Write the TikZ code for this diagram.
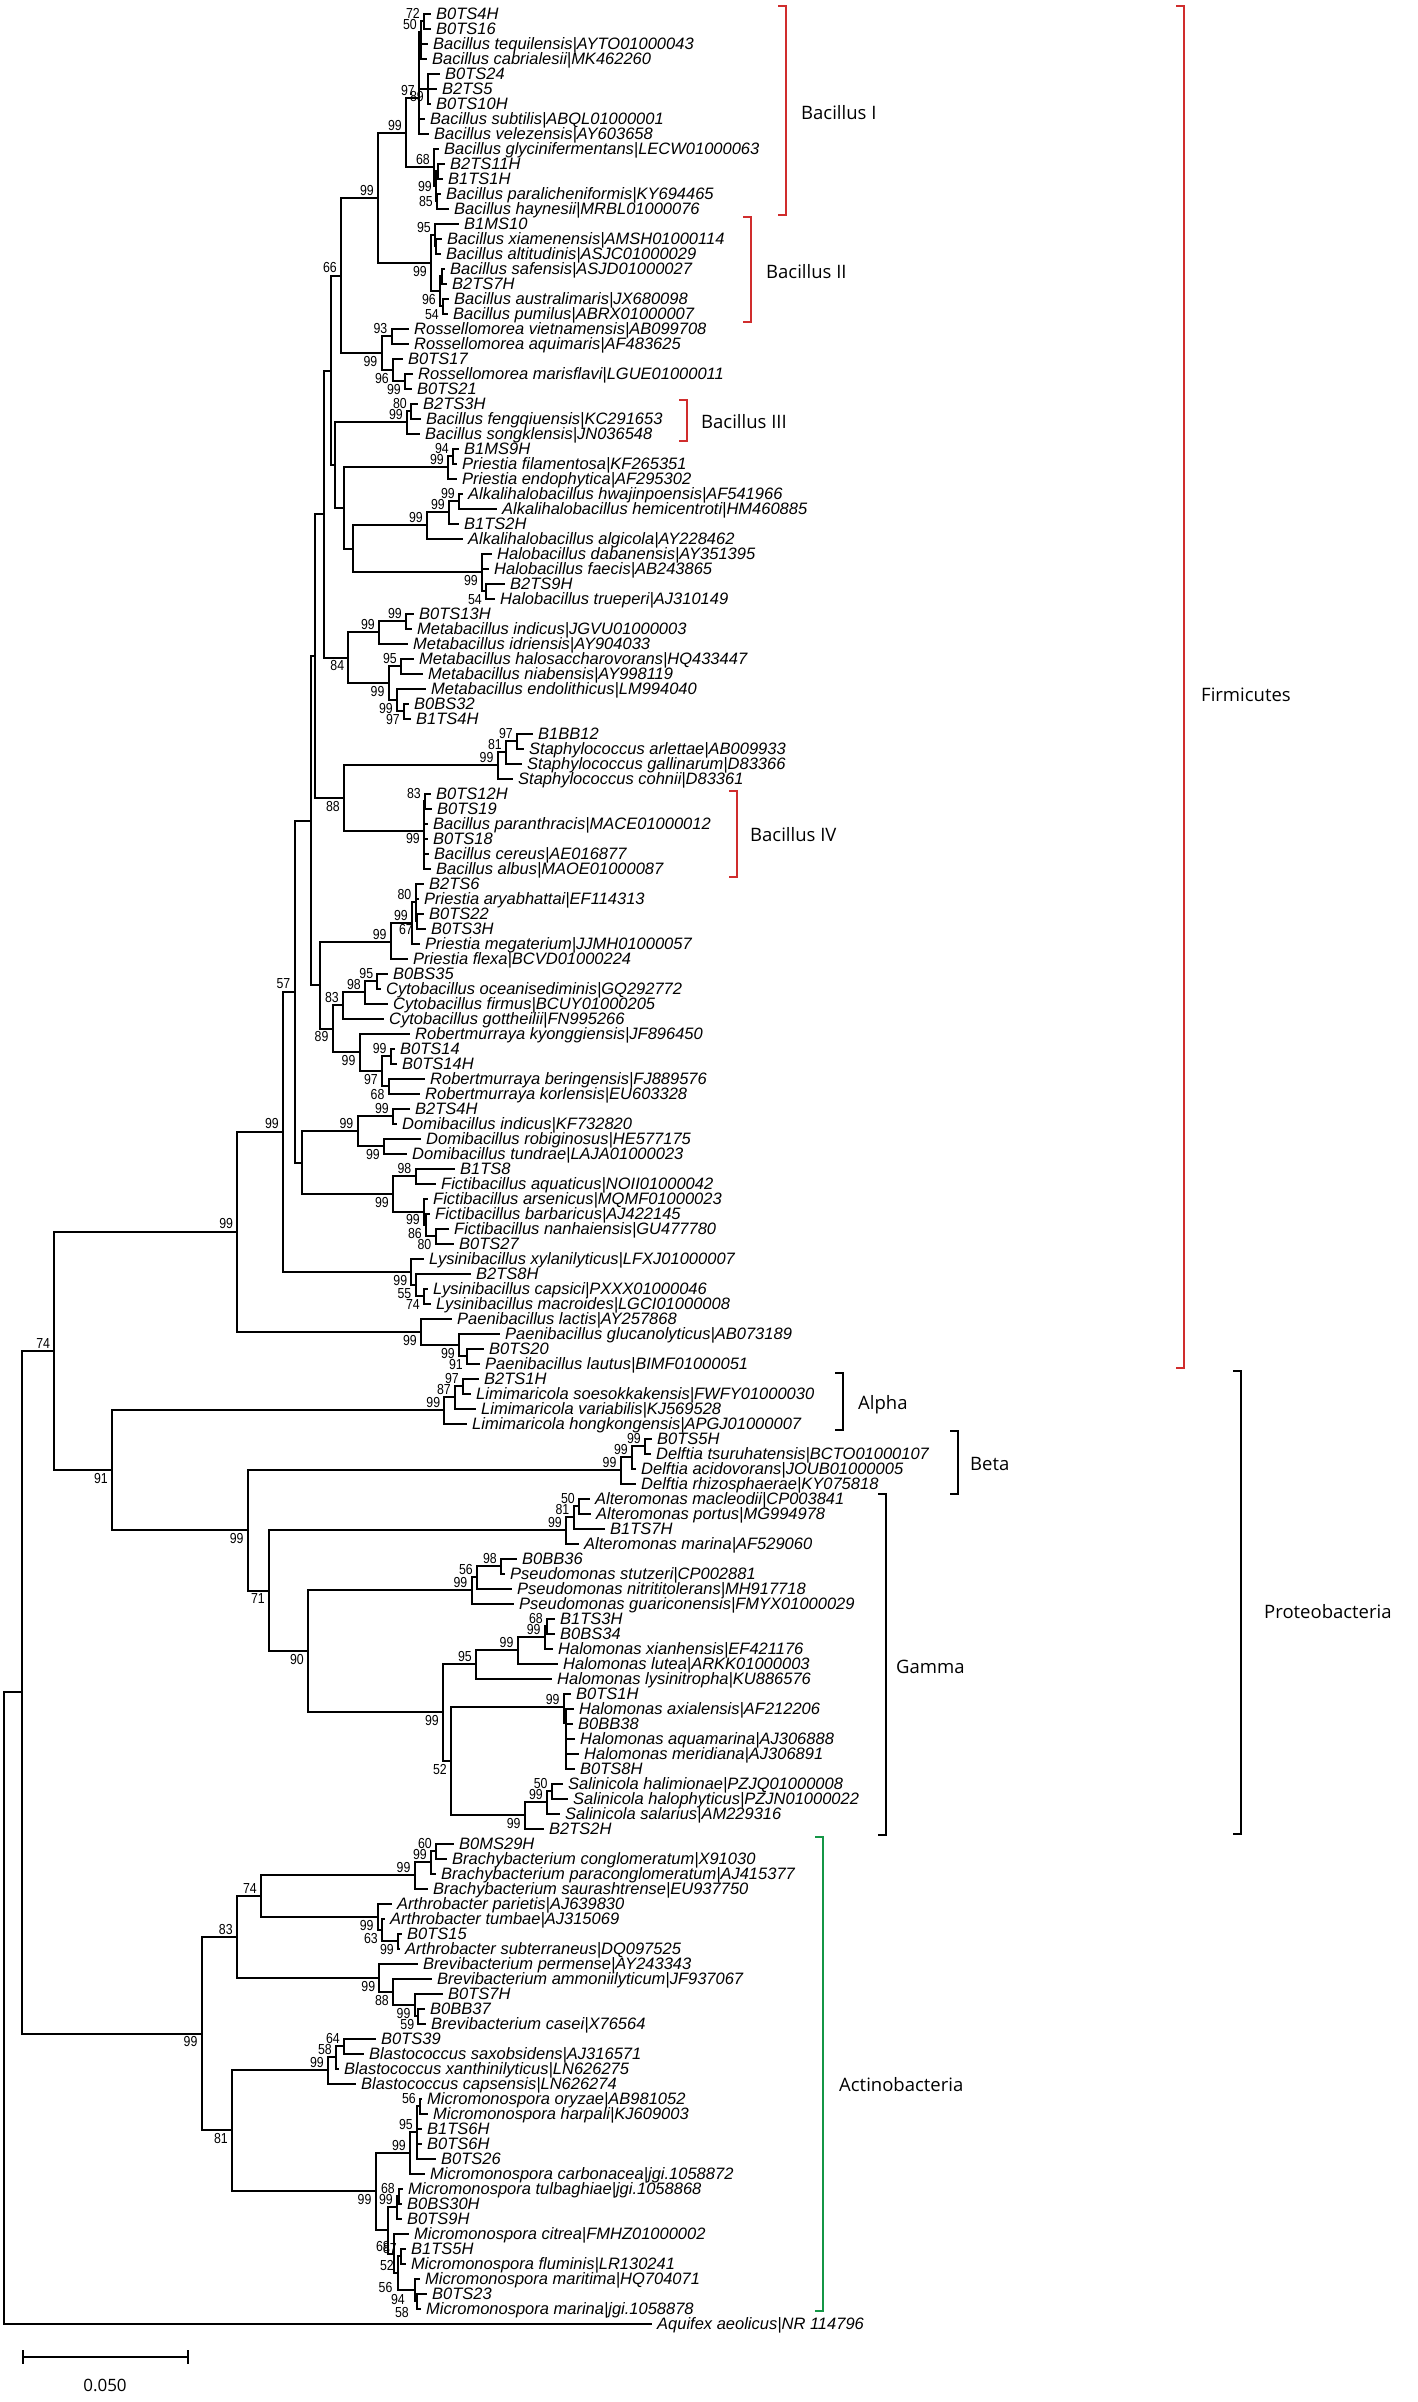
\documentclass[tikz,border=0pt]{standalone}
\usepackage{fontspec}
\setmainfont{Liberation Sans}
\newfontfamily\cladefont{Open Sans}
\newfontfamily\bsfont{Liberation Sans}[FakeStretch=0.85]
\definecolor{vermelho}{RGB}{208,45,45}
\definecolor{verde}{RGB}{20,150,70}

\begin{document}
\begin{tikzpicture}[x=1pt, y=-1pt,
  ramo/.style={line width=2pt},
  folha/.style={anchor=west, inner xsep=5pt, inner ysep=0pt, text height=12pt, text depth=0pt, font=\itshape\fontsize{16.5}{18}\selectfont},
  boot/.style={inner sep=0pt, text height=10.4pt, text depth=0pt, font=\bsfont\fontsize{14.5}{15}\selectfont},
  acima/.style={anchor=south east, xshift=-4pt, yshift=2.5pt},
  abaixo/.style={anchor=north east, xshift=-4pt, yshift=-2.5pt},
  lado/.style={anchor=east, xshift=-4pt},
  chave/.style={line width=1.3pt},
  grupo/.style={anchor=west, inner sep=0pt, font=\cladefont\fontsize{18.5}{20}\selectfont}]

\useasboundingbox (0,0) rectangle (1417,2402);

% Folhas (ponta do ramo e nome)
\foreach \i/\x/\nome in {1/431/B0TS4H, 2/431/B0TS16, 3/428/Bacillus tequilensis|AYTO01000043, 4/427/Bacillus cabrialesii|MK462260,
  5/440/B0TS24, 6/437/B2TS5, 7/431/B0TS10H, 8/425/Bacillus subtilis|ABQL01000001, 9/429/Bacillus velezensis|AY603658,
  10/439/Bacillus glycinifermentans|LECW01000063, 11/445/B2TS11H, 12/443/B1TS1H, 13/441/Bacillus paralicheniformis|KY694465,
  14/449/Bacillus haynesii|MRBL01000076, 15/459/B1MS10, 16/442/Bacillus xiamenensis|AMSH01000114, 17/441/Bacillus altitudinis|ASJC01000029,
  18/445/Bacillus safensis|ASJD01000027, 19/447/B2TS7H, 20/449/Bacillus australimaris|JX680098, 21/448/Bacillus pumilus|ABRX01000007,
  22/409/Rossellomorea vietnamensis|AB099708, 23/409/Rossellomorea aquimaris|AF483625, 24/403/B0TS17,
  25/413/Rossellomorea marisflavi|LGUE01000011, 26/412/B0TS21, 27/418/B2TS3H, 28/421/Bacillus fengqiuensis|KC291653,
  29/420/Bacillus songklensis|JN036548, 30/459/B1MS9H, 31/457/Priestia filamentosa|KF265351, 32/457/Priestia endophytica|AF295302,
  33/463/Alkalihalobacillus hwajinpoensis|AF541966, 34/497/Alkalihalobacillus hemicentroti|HM460885, 35/459/B1TS2H,
  36/463/Alkalihalobacillus algicola|AY228462, 37/492/Halobacillus dabanensis|AY351395, 38/489/Halobacillus faecis|AB243865,
  39/505/B2TS9H, 40/495/Halobacillus trueperi|AJ310149, 41/414/B0TS13H, 42/412/Metabacillus indicus|JGVU01000003,
  43/408/Metabacillus idriensis|AY904033, 44/414/Metabacillus halosaccharovorans|HQ433447, 45/423/Metabacillus niabensis|AY998119,
  46/426/Metabacillus endolithicus|LM994040, 47/409/B0BS32, 48/411/B1TS4H, 49/533/B1BB12, 50/524/Staphylococcus arlettae|AB009933,
  51/522/Staphylococcus gallinarum|D83366, 52/513/Staphylococcus cohnii|D83361, 53/431/B0TS12H, 54/432/B0TS19,
  55/428/Bacillus paranthracis|MACE01000012, 56/428/B0TS18, 57/429/Bacillus cereus|AE016877, 58/431/Bacillus albus|MAOE01000087,
  59/424/B2TS6, 60/419/Priestia aryabhattai|EF114313, 61/424/B0TS22, 62/426/B0TS3H, 63/420/Priestia megaterium|JJMH01000057,
  64/408/Priestia flexa|BCVD01000224, 65/388/B0BS35, 66/381/Cytobacillus oceanisediminis|GQ292772, 67/388/Cytobacillus firmus|BCUY01000205,
  68/384/Cytobacillus gottheilii|FN995266, 69/410/Robertmurraya kyonggiensis|JF896450, 70/395/B0TS14, 71/397/B0TS14H,
  72/425/Robertmurraya beringensis|FJ889576, 73/420/Robertmurraya korlensis|EU603328, 74/410/B2TS4H, 75/397/Domibacillus indicus|KF732820,
  76/421/Domibacillus robiginosus|HE577175, 77/407/Domibacillus tundrae|LAJA01000023, 78/455/B1TS8, 79/436/Fictibacillus aquaticus|NOII01000042,
  80/428/Fictibacillus arsenicus|MQMF01000023, 81/430/Fictibacillus barbaricus|AJ422145, 82/449/Fictibacillus nanhaiensis|GU477780,
  83/454/B0TS27, 84/424/Lysinibacillus xylanilyticus|LFXJ01000007, 85/471/B2TS8H, 86/428/Lysinibacillus capsici|PXXX01000046,
  87/431/Lysinibacillus macroides|LGCI01000008, 88/452/Paenibacillus lactis|AY257868, 89/500/Paenibacillus glucanolyticus|AB073189,
  90/484/B0TS20, 91/480/Paenibacillus lautus|BIMF01000051,
  92/479/B2TS1H, 93/471/Limimaricola soesokkakensis|FWFY01000030, 94/476/Limimaricola variabilis|KJ569528,
  95/467/Limimaricola hongkongensis|APGJ01000007, 96/652/B0TS5H, 97/651/Delftia tsuruhatensis|BCTO01000107,
  98/636/Delftia acidovorans|JOUB01000005, 99/636/Delftia rhizosphaerae|KY075818, 100/590/Alteromonas macleodii|CP003841,
  101/591/Alteromonas portus|MG994978, 102/605/B1TS7H, 103/579/Alteromonas marina|AF529060, 104/517/B0BB36,
  105/505/Pseudomonas stutzeri|CP002881, 106/512/Pseudomonas nitrititolerans|MH917718, 107/514/Pseudomonas guariconensis|FMYX01000029,
  108/555/B1TS3H, 109/555/B0BS34, 110/553/Halomonas xianhensis|EF421176, 111/558/Halomonas lutea|ARKK01000003,
  112/552/Halomonas lysinitropha|KU886576, 113/571/B0TS1H, 114/574/Halomonas axialensis|AF212206, 115/573/B0BB38,
  116/575/Halomonas aquamarina|AJ306888, 117/579/Halomonas meridiana|AJ306891, 118/575/B0TS8H,
  119/563/Salinicola halimionae|PZJQ01000008, 120/568/Salinicola halophyticus|PZJN01000022, 121/560/Salinicola salarius|AM229316,
  122/544/B2TS2H,
  123/454/B0MS29H, 124/447/Brachybacterium conglomeratum|X91030, 125/436/Brachybacterium paraconglomeratum|AJ415377,
  126/428/Brachybacterium saurashtrense|EU937750, 127/392/Arthrobacter parietis|AJ639830, 128/385/Arthrobacter tumbae|AJ315069,
  129/402/B0TS15, 130/400/Arthrobacter subterraneus|DQ097525, 131/418/Brevibacterium permense|AY243343,
  132/432/Brevibacterium ammoniilyticum|JF937067, 133/443/B0TS7H, 134/425/B0BB37, 135/426/Brevibacterium casei|X76564,
  136/376/B0TS39, 137/364/Blastococcus saxobsidens|AJ316571, 138/339/Blastococcus xanthinilyticus|LN626275,
  139/356/Blastococcus capsensis|LN626274, 140/422/Micromonospora oryzae|AB981052, 141/428/Micromonospora harpali|KJ609003,
  142/422/B1TS6H, 143/422/B0TS6H, 144/436/B0TS26, 145/425/Micromonospora carbonacea|jgi.1058872,
  146/403/Micromonospora tulbaghiae|jgi.1058868, 147/402/B0BS30H, 148/402/B0TS9H, 149/409/Micromonospora citrea|FMHZ01000002,
  150/406/B1TS5H, 151/406/Micromonospora fluminis|LR130241, 152/420/Micromonospora maritima|HQ704071, 153/427/B0TS23,
  154/421/Micromonospora marina|jgi.1058878, 155/652/Aquifex aeolicus|NR 114796} {
  \coordinate (t\i) at (\x, {13.5+15*(\i-1)});
  \node[folha] (f\i) at (t\i) {\nome};
}

% Nos internos
\foreach \n/\x/\y in {n72/424/21, n50/421/32, n89/428/88.5, nS/419/98, nB2/438/171, n85/437/201, nL2/436/186, nL/434/167,
  nBI/406/133, n95b/436/246, n95/435/235, nBIIa/442/276, n54/443/306, n96/440/291, nBII/431/263, nBac/378/198,
  n93/391.5/336, n99c/405/381, n96R/393/370, nRos/381.5/353, n66/341/275.5, nB3a/411/411, nB3/407/422,
  nPri1a/453/456, nPri1/448/467, nAlk2/459/501, nAlk1/449/512, nAlk/427/525, nHal3/486/591, nHal/482/572,
  nAH/352.5/548.5, nPAH/344/508, nB3P/334.7/465, nM/330.6/370.5, nMet1a/406/621, nMet1/379/632, nMet95/401/666,
  nMet4/404/711, nMet3/397/700, nMet2/388.6/683, nMet/348.4/657.5, nN/324.4/514, nSt3/517/741, nSt2/506/752,
  nSt/497.6/765, nBIVa/425/801, nBIV/424/830.5, nSB/344/798, nO/315/656, nPm3/417/921, nPm2/415.5/902,
  nPm1/412/923, nPm/390.7/942, nCy1/377.4/981, nCy2/365/992, nCy/343/1005, nRob3/390.7/1056, nRob4/388.6/1086,
  nRob2/382/1071, nRob/359.6/1052, nCR/332.6/1028.6, nI/320/985, nG/310.5/820.5, nDom1/393/1116, nDom2/384/1146,
  nDom/357.5/1131, nFic1/415.5/1176, nFic4/435.5/1236, nFic3/426/1225, nFic2/424/1211.6, nFic/393/1194,
  nDF/301.6/1162.5, nF3/294.5/991.5, nLysB/424/1296, nLysA/415.5/1285, nLys/411.4/1272, nF2/283/1131.5,
  nPae3/467/1356, nPae2/459/1345, nPae/421/1332, nFirm/237.3/1231.6,
  nAl3/463/1386, nAl2/455/1397, nAl/444.4/1410, nBe3/645/1446, nBe2/632/1457, nBe/620.6/1470,
  nAlt3/579/1506, nAlt2/573.5/1517, nAlt/566/1530, nPse3/501/1566, nPse2/477/1577, nPse/471.5/1590,
  nHm4/547/1626, nHm3/544.7/1637, nHm2/517.6/1650, nHm1/476/1664, nHax2/566/1723, nHax/563.7/1707,
  nSal3/551.8/1791, nSal2/547/1802, nSal/524.7/1815, nX/451/1761, nHS/443/1712, nPG/308/1651,
  nG2/269/1590.5, nBG/247.7/1530, nProt/112/1470,
  nBr3/436/1851, nBr2/431/1862, nBr/414.6/1875, nAr3/398/1941, nAr2/382/1930, nAr/377.8/1917, nBA/261/1896,
  nBv4/418.4/2016, nBv3/414.6/2005, nBv2/393/1992, nBv/379.4/1978, nBAB/236.9/1937, nBl3/344/2046,
  nBl2/336/2057, nBl/328/2070, nMi3/420/2106, nMi2/417/2132, nMi1/410/2153, nMi5a/399/2196, nMi5/397/2207,
  nMi8/401/2256, nMi10/417/2301, nMi9/414.6/2290, nMi7/398/2273, nMi6/394/2254, nMi4/387.5/2230,
  nMi/375.6/2191, nBM/232/2130, nAct/201.6/2033.5,
  n74/54.2/1351, nA/21.7/1692, raiz/4.3/2008}
  \coordinate (\n) at (\x,\y);

% Ramos (pai -> filhos)
\foreach \p/\fs in {n72/{t1,t2}, n50/{n72,t3,t4}, n89/{t5,t6,t7}, nS/{n50,n89,t8,t9}, nB2/{t11,t12}, n85/{t13,t14},
  nL2/{nB2,n85}, nL/{t10,nL2}, nBI/{nS,nL}, n95b/{t16,t17}, n95/{t15,n95b}, nBIIa/{t18,t19}, n54/{t20,t21},
  n96/{nBIIa,n54}, nBII/{n95,n96}, nBac/{nBI,nBII}, n93/{t22,t23}, n99c/{t25,t26}, n96R/{t24,n99c}, nRos/{n93,n96R},
  n66/{nBac,nRos}, nB3a/{t27,t28}, nB3/{nB3a,t29}, nPri1a/{t30,t31}, nPri1/{nPri1a,t32}, nAlk2/{t33,t34},
  nAlk1/{nAlk2,t35}, nAlk/{nAlk1,t36}, nHal3/{t39,t40}, nHal/{t37,t38,nHal3}, nAH/{nAlk,nHal}, nPAH/{nPri1,nAH},
  nB3P/{nB3,nPAH}, nM/{n66,nB3P}, nMet1a/{t41,t42}, nMet1/{nMet1a,t43}, nMet95/{t44,t45}, nMet4/{t47,t48},
  nMet3/{t46,nMet4}, nMet2/{nMet95,nMet3}, nMet/{nMet1,nMet2}, nN/{nM,nMet}, nSt3/{t49,t50}, nSt2/{nSt3,t51},
  nSt/{nSt2,t52}, nBIVa/{t53,t54}, nBIV/{nBIVa,t55,t56,t57,t58}, nSB/{nSt,nBIV}, nO/{nN,nSB}, nPm3/{t61,t62},
  nPm2/{t59,t60,nPm3}, nPm1/{nPm2,t63}, nPm/{nPm1,t64}, nCy1/{t65,t66}, nCy2/{nCy1,t67}, nCy/{nCy2,t68},
  nRob3/{t70,t71}, nRob4/{t72,t73}, nRob2/{nRob3,nRob4}, nRob/{t69,nRob2}, nCR/{nCy,nRob}, nI/{nPm,nCR},
  nG/{nO,nI}, nDom1/{t74,t75}, nDom2/{t76,t77}, nDom/{nDom1,nDom2}, nFic1/{t78,t79}, nFic4/{t82,t83},
  nFic3/{t81,nFic4}, nFic2/{t80,nFic3}, nFic/{nFic1,nFic2}, nDF/{nDom,nFic}, nF3/{nG,nDF}, nLysB/{t86,t87},
  nLysA/{t85,nLysB}, nLys/{t84,nLysA}, nF2/{nF3,nLys}, nPae3/{t90,t91}, nPae2/{t89,nPae3}, nPae/{t88,nPae2},
  nFirm/{nF2,nPae},
  nAl3/{t92,t93}, nAl2/{nAl3,t94}, nAl/{nAl2,t95}, nBe3/{t96,t97}, nBe2/{nBe3,t98}, nBe/{nBe2,t99},
  nAlt3/{t100,t101}, nAlt2/{nAlt3,t102}, nAlt/{nAlt2,t103}, nPse3/{t104,t105}, nPse2/{nPse3,t106},
  nPse/{nPse2,t107}, nHm4/{t108,t109}, nHm3/{nHm4,t110}, nHm2/{nHm3,t111}, nHm1/{nHm2,t112},
  nHax2/{t114,t115,t116,t117,t118}, nHax/{t113,nHax2}, nSal3/{t119,t120}, nSal2/{nSal3,t121}, nSal/{nSal2,t122},
  nX/{nHax,nSal}, nHS/{nHm1,nX}, nPG/{nPse,nHS}, nG2/{nAlt,nPG}, nBG/{nBe,nG2}, nProt/{nAl,nBG},
  nBr3/{t123,t124}, nBr2/{nBr3,t125}, nBr/{nBr2,t126}, nAr3/{t129,t130}, nAr2/{t128,nAr3}, nAr/{t127,nAr2},
  nBA/{nBr,nAr}, nBv4/{t134,t135}, nBv3/{t133,nBv4}, nBv2/{t132,nBv3}, nBv/{t131,nBv2}, nBAB/{nBA,nBv},
  nBl3/{t136,t137}, nBl2/{nBl3,t138}, nBl/{nBl2,t139}, nMi3/{t140,t141}, nMi2/{nMi3,t142,t143,t144},
  nMi1/{nMi2,t145}, nMi5a/{t146,t147}, nMi5/{nMi5a,t148}, nMi8/{t150,t151}, nMi10/{t153,t154},
  nMi9/{t152,nMi10}, nMi7/{nMi8,nMi9}, nMi6/{t149,nMi7}, nMi4/{nMi5,nMi6}, nMi/{nMi1,nMi4}, nBM/{nBl,nMi},
  nAct/{nBAB,nBM},
  n74/{nFirm,nProt}, nA/{n74,nAct}, raiz/{nA,t155}}
  \foreach \f in \fs \draw[ramo] (\p) |- (\f);

% Valores de bootstrap
\foreach \n/\v in {n72/72, n50/50, nS/97, nBI/99, nBac/99, n66/66, nL/68, n95/95, n93/93, nB3a/80, nB3/99,
  nPri1a/94, nPri1/99, nAlk2/99, nAlk1/99, nAlk/99, nMet1a/99, nMet1/99, nMet95/95, nSt3/97, nSt2/81, nSt/99,
  nBIVa/83, nPm/99, nPm1/99, nPm2/80, nCy1/95, nCy2/98, nCy/83, nF3/57, nRob3/99, nDom1/99, nDom/99, nFic1/98,
  nF2/99, nFirm/99, n74/74, nAl3/97, nAl2/87, nAl/99, nBe3/99, nBe2/99, nBe/99, nAlt3/50, nAlt2/81, nAlt/99,
  nPse3/98, nPse2/56, nPse/99, nHm4/68, nHm3/99, nHm2/99, nHm1/95, nHax/99, nSal3/50, nSal2/99, nBr3/60,
  nBr2/99, nBr/99, nBA/74, nBAB/83, nBl3/64, nBl2/58, nBl/99, nMi3/56, nMi2/95, nMi1/99, nMi5a/68, nMi5/99,
  nMi6/68, nMi8/87, nMi7/52}
  \node[boot, acima] at (\n) {\v};
\foreach \n/\v in {n89/89, nBII/99, n96/96, n54/54, nRos/99, n96R/96, n99c/99, nHal/99, nHal3/54, nMet2/99,
  nMet3/99, nMet4/97, nMet/84, nBIV/99, nSB/88, nPm3/67, nCR/89, nRob/99, nRob2/97, nRob4/68, nDom2/99, nFic/99,
  nFic2/99, nFic3/86, nFic4/80, nLys/99, nLysA/55, nLysB/74, nPae/99, nPae2/99, nPae3/91, nProt/91, nBG/99,
  nG2/71, nPG/90, nHS/99, nX/52, nSal/99, nAr/99, nAr2/63, nAr3/99, nBv/99, nBv2/88, nBv3/99, nBv4/59,
  nAct/99, nBM/81, nMi/99}
  \node[boot, abaixo] at (\n) {\v};
\foreach \n/\v in {nL2/99, n85/85}
  \node[boot, lado] at (\n) {\v};
\node[boot, lado, xshift=-18pt, yshift=3pt] at (nMi9) {56};
\node[boot, lado, xshift=-8pt, yshift=2pt] at (nMi10) {94};
\node[boot, abaixo, xshift=-4pt, yshift=-3.5pt] at (nMi10) {58};

% Chaves dos grupos
\draw[chave, vermelho] (778,6) -- (786,6) -- (786,215) -- (778,215);
\draw[chave, vermelho] (743,217) -- (751,217) -- (751,322) -- (743,322);
\draw[chave, vermelho] (679,400) -- (687,400) -- (687,441) -- (679,441);
\draw[chave, vermelho] (729,791) -- (737,791) -- (737,877) -- (729,877);
\draw[chave, vermelho] (1176,6) -- (1184,6) -- (1184,1368) -- (1176,1368);
\draw[chave] (835,1373) -- (843,1373) -- (843,1430) -- (835,1430);
\draw[chave] (950,1431) -- (958,1431) -- (958,1494) -- (950,1494);
\draw[chave] (878,1494) -- (886,1494) -- (886,1835) -- (878,1835);
\draw[chave] (1233,1371) -- (1241,1371) -- (1241,1834) -- (1233,1834);
\draw[chave, verde] (815,1837) -- (823,1837) -- (823,2311) -- (815,2311);

\node[grupo] (gB1) at (801,113) {Bacillus I};
\node[grupo] (gB2) at (766,272) {Bacillus II};
\node[grupo] (gB3) at (701,422) {Bacillus III};
\node[grupo] (gB4) at (750,835) {Bacillus IV};
\node[grupo] (gFir) at (1201,695) {Firmicutes};
\node[grupo] (gAlf) at (858,1405) {Alpha};
\node[grupo] (gBet) at (970,1464) {Beta};
\node[grupo] (gGam) at (896,1667) {Gamma};
\node[grupo] (gPro) at (1264,1612) {Proteobacteria};
\node[grupo] (gAct) at (839,2085) {Actinobacteria};

% Barra de escala
\coordinate (e1) at (23,2357);
\coordinate (e2) at (188,2357);
\draw[ramo] (e1) -- (e2);
\draw[chave] ([yshift=7pt]e1) -- ([yshift=-7pt]e1);
\draw[chave] ([yshift=7pt]e2) -- ([yshift=-7pt]e2);
\node[grupo, anchor=center, font=\cladefont\fontsize{17}{18}\selectfont] (esc) at (105,2385) {0.050};

\end{tikzpicture}
\end{document}
